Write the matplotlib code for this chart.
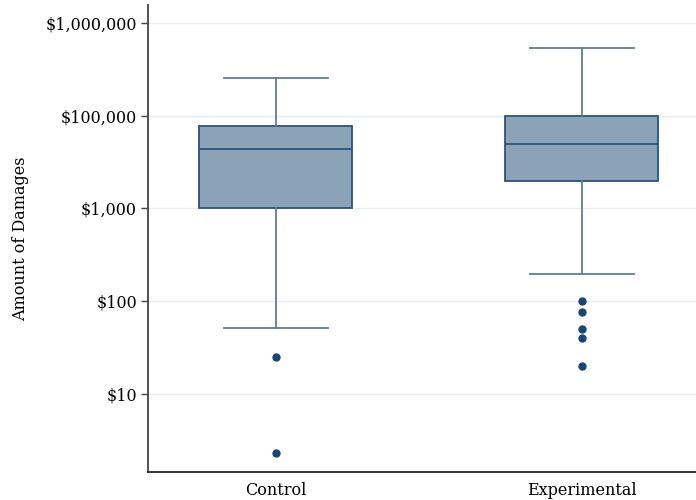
import matplotlib.pyplot as plt
import numpy as np

groups = ['Control', 'Experimental']
whislo = [51, 197]
q1 = [1000, 1995]
med = [4350, 4920]
q3 = [7740, 9870]
whishi = [25350, 54200]
fliers = [[24.9, 2.3], [100, 76, 50, 40, 20.2]]

tick_vals = [10, 100, 1000, 10000, 100000]
tick_labels = ['$10', '$100', '$1,000', '$100,000', '$1,000,000']

plt.rcParams['font.family'] = 'DejaVu Serif'

fig = plt.figure(figsize=(6.96, 5), dpi=100)
ax = fig.add_axes([148 / 696, 28 / 500, 548 / 696, 467 / 500])

stats = []
for i, g in enumerate(groups):
    stats.append(dict(label=g, whislo=whislo[i], q1=q1[i], med=med[i],
                      q3=q3[i], whishi=whishi[i], fliers=fliers[i]))

ax.bxp(stats, positions=[1, 2], widths=0.5, patch_artist=True,
       showcaps=True,
       boxprops=dict(facecolor='#8ca3b7', edgecolor='#2b5479', linewidth=1.3),
       medianprops=dict(color='#2b5479', linewidth=1.3),
       whiskerprops=dict(color='#5e7d9a', linewidth=1.3),
       capprops=dict(color='#5e7d9a', linewidth=1.3),
       capwidths=0.34,
       flierprops=dict(marker='o', markersize=5, markerfacecolor='#1a476f',
                       markeredgecolor='#1a476f'))

ax.set_yscale('log')
ax.set_ylim(10 ** 0.159, 10 ** 5.194)
ax.set_xlim(0.582, 2.373)
ax.set_yticks(tick_vals)
ax.set_yticklabels(tick_labels)
ax.minorticks_off()
ax.yaxis.grid(True, color='#e8eff2', linewidth=1)
ax.set_axisbelow(True)

ax.spines['top'].set_visible(False)
ax.spines['right'].set_visible(False)
ax.spines['left'].set_color('#444444')
ax.spines['bottom'].set_color('#222222')
ax.spines['left'].set_linewidth(1.3)
ax.spines['bottom'].set_linewidth(1.3)

ax.tick_params(axis='y', length=5, width=1, color='#444444', labelsize=11.5, pad=3)
ax.tick_params(axis='x', length=0, labelsize=11.5, pad=7)
for lab in ax.get_xticklabels() + ax.get_yticklabels():
    lab.set_fontweight('medium')
ax.set_ylabel('Amount of Damages', fontsize=11.5, labelpad=12)

plt.savefig('out.png', dpi=100)
